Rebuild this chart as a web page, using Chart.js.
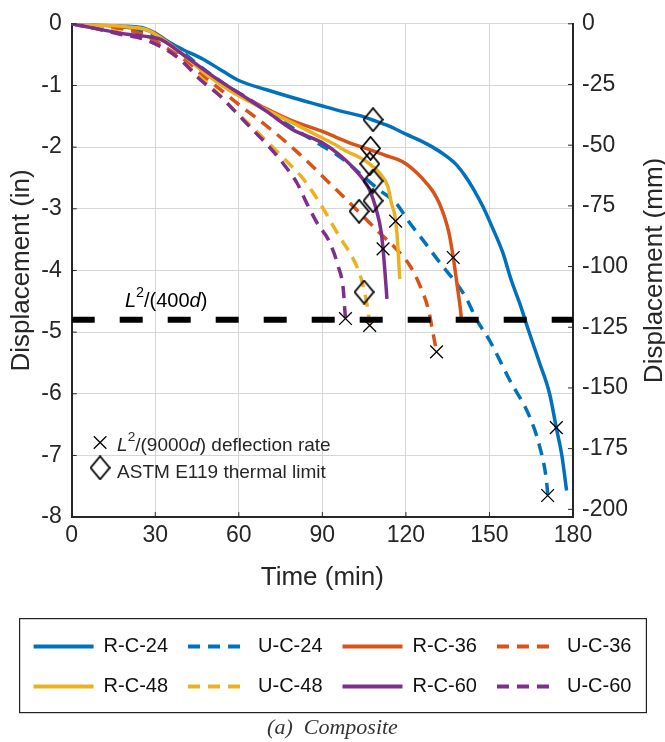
<!DOCTYPE html>
<html>
<head>
<meta charset="utf-8">
<script src="https://cdn.jsdelivr.net/npm/chart.js@4.4.1/dist/chart.umd.min.js"></script>
<style>
  html, body { margin: 0; padding: 0; background: #fff; }
  #chart { display: block; }
</style>
</head>
<body>
<canvas id="chart" width="665" height="742"></canvas>
<script>
// ===================== Data (time in min, displacement in in) =====================
const rc24T = [0, 10, 20, 26, 30, 35, 40, 47, 54, 60, 70, 79.5, 89, 97, 103.5, 108, 114, 120, 125, 129.6, 134, 138, 141, 144, 147.6, 151, 154.7, 158, 161, 164, 168, 171.6, 174, 176, 177.7];
const rc24D = [0, -0.02, -0.04, -0.07, -0.15, -0.3, -0.42, -0.57, -0.76, -0.92, -1.07, -1.2, -1.32, -1.42, -1.49, -1.56, -1.66, -1.79, -1.89, -2.0, -2.13, -2.28, -2.45, -2.66, -2.96, -3.3, -3.7, -4.18, -4.55, -4.97, -5.5, -6.0, -6.55, -7.0, -7.57];

const uc24T = [0, 10, 20, 28, 33, 40, 47, 54, 61.5, 70, 76, 83, 90, 97, 103.5, 110.6, 116.5, 121.4, 126, 133, 138, 141.8, 145.3, 150.1, 157.3, 164.4, 168, 170.4, 171];
const uc24D = [0, -0.03, -0.08, -0.15, -0.27, -0.47, -0.72, -0.95, -1.16, -1.4, -1.59, -1.79, -1.98, -2.18, -2.43, -2.7, -2.91, -3.23, -3.5, -3.92, -4.2, -4.46, -4.79, -5.14, -5.78, -6.37, -6.85, -7.38, -7.66];

const rc36T = [0, 10, 20, 27, 32, 40, 47, 54, 60.4, 70, 79.5, 89, 95, 101, 107, 113, 117, 120, 124, 127.5, 130, 132, 134, 135.5, 137, 138.6, 139.5, 140];
const rc36D = [0, -0.02, -0.06, -0.1, -0.22, -0.5, -0.76, -0.98, -1.16, -1.38, -1.58, -1.73, -1.84, -1.95, -2.04, -2.14, -2.2, -2.27, -2.42, -2.59, -2.74, -2.91, -3.15, -3.4, -3.79, -4.3, -4.6, -4.82];

const uc36T = [0, 10, 20, 27, 35, 41, 47, 53, 60.3, 66.4, 73.6, 79.5, 85.5, 91.6, 97.5, 103.5, 109.4, 116.7, 121.4, 125, 128, 129.6, 131];
const uc36D = [0, -0.04, -0.1, -0.2, -0.42, -0.6, -0.84, -1.05, -1.32, -1.53, -1.79, -2.02, -2.27, -2.54, -2.8, -3.07, -3.34, -3.66, -3.92, -4.24, -4.62, -4.98, -5.32];

const rc48T = [0, 10, 20, 27, 32, 40, 47, 54, 60.4, 70, 79.5, 89, 95, 98.8, 103, 106, 110.7, 113.5, 114.8, 116, 116.8, 117.3, 117.8];
const rc48D = [0, -0.02, -0.05, -0.1, -0.23, -0.5, -0.77, -1.0, -1.18, -1.4, -1.61, -1.83, -1.97, -2.07, -2.16, -2.24, -2.43, -2.64, -2.91, -3.1, -3.4, -3.75, -4.14];

const uc48T = [0, 10, 20, 26, 34, 40, 47, 53, 59, 65, 71, 77, 82.5, 87, 91, 96, 101.5, 104, 105.8, 106.5, 107];
const uc48D = [0, -0.05, -0.18, -0.25, -0.42, -0.62, -0.9, -1.15, -1.43, -1.68, -1.95, -2.22, -2.48, -2.76, -3.05, -3.44, -3.85, -4.14, -4.5, -4.7, -4.89];

const rc60T = [0, 7.8, 20, 26, 31.7, 40, 47, 54, 63, 70, 79.5, 90, 96, 102, 107, 109.4, 111, 111.8, 112.4, 113.2];
const rc60D = [0, -0.07, -0.17, -0.2, -0.25, -0.5, -0.73, -0.95, -1.21, -1.42, -1.72, -1.93, -2.12, -2.38, -2.7, -3.02, -3.34, -3.65, -3.98, -4.46];

const uc60T = [0, 7.8, 17.4, 26, 34, 40, 46, 53, 59.3, 65, 70, 76, 81, 84.4, 88, 92.7, 95.6, 97.5, 98, 98.3];
const uc60D = [0, -0.07, -0.17, -0.25, -0.42, -0.62, -0.9, -1.16, -1.45, -1.72, -1.95, -2.27, -2.59, -2.91, -3.22, -3.55, -3.92, -4.3, -4.6, -4.78];

// L^2/(9000d) deflection rate points
const rateT = [174, 170.9, 137, 131, 116.3, 107, 111.8, 98.3];
const rateD = [-6.55, -7.65, -3.79, -5.32, -3.2, -4.89, -3.65, -4.78];

// ASTM E119 thermal limit points
const thermalT = [108.2, 107.3, 107, 108.2, 108.2, 103.2, 105];
const thermalD = [-1.555, -2.02, -2.27, -2.55, -2.87, -3.04, -4.35];

// L^2/(400d) limit
const limitD = -4.8;

// axes
const timeTicks = [0, 30, 60, 90, 120, 150, 180];
const inchMin = -8;
const mmPerInch = 25.4;
const mmStep = 25;

const seriesNames = ['R-C-24', 'U-C-24', 'R-C-36', 'U-C-36', 'R-C-48', 'U-C-48', 'R-C-60', 'U-C-60'];
const seriesT = [rc24T, uc24T, rc36T, uc36T, rc48T, uc48T, rc60T, uc60T];
const seriesD = [rc24D, uc24D, rc36D, uc36D, rc48D, uc48D, rc60D, uc60D];
const seriesColors = ['#0072BD', '#0072BD', '#D95319', '#D95319', '#EDB120', '#EDB120', '#7E2F8E', '#7E2F8E'];

// ===================== Helpers =====================
const TEXT = '#262626';
const FONT = "'Liberation Sans', Arial, Helvetica, sans-serif";

function toPoints(ts, ds) {
    return ts.map((t, i) => ({ x: t, y: ds[i] }));
}

function makeDiamond(w, h) {
    const c = document.createElement('canvas');
    c.width = w + 2;
    c.height = h + 2;
    const g = c.getContext('2d');
    g.strokeStyle = '#000';
    g.lineWidth = 1.8;
    g.beginPath();
    g.moveTo(c.width / 2, 1);
    g.lineTo(c.width - 1, c.height / 2);
    g.lineTo(c.width / 2, c.height - 1);
    g.lineTo(1, c.height / 2);
    g.closePath();
    g.stroke();
    return c;
}
const diamond = makeDiamond(19, 23);

// draws text pieces: plain, italic, superscript
function drawRich(ctx, parts, x, y, size) {
    ctx.textBaseline = 'middle';
    ctx.textAlign = 'left';
    parts.forEach(p => {
        const s = p.sup ? size * 0.72 : size;
        ctx.font = (p.italic ? 'italic ' : '') + s + 'px ' + FONT;
        const dy = p.sup ? -size * 0.42 : 0;
        ctx.fillText(p.t, x, y + dy);
        x += ctx.measureText(p.t).width;
    });
}

// ===================== Datasets =====================
const datasets = seriesNames.map((name, i) => ({
    label: name,
    data: toPoints(seriesT[i], seriesD[i]),
    borderColor: seriesColors[i],
    backgroundColor: seriesColors[i],
    borderWidth: 3.5,
    borderDash: name.startsWith('U') ? [12, 8] : [],
    pointRadius: 0,
    cubicInterpolationMode: 'monotone',
    yAxisID: 'y',
    order: 20 - i
}));

datasets.push({
    label: 'limit',
    data: [{ x: timeTicks[0], y: limitD }, { x: timeTicks[timeTicks.length - 1], y: limitD }],
    borderColor: '#000',
    borderWidth: 6,
    borderDash: [23, 25],
    pointRadius: 0,
    yAxisID: 'y',
    order: 2
});
datasets.push({
    type: 'scatter',
    label: 'thermal',
    data: toPoints(thermalT, thermalD),
    pointStyle: diamond,
    showLine: false,
    yAxisID: 'y',
    order: 1
});
datasets.push({
    type: 'scatter',
    label: 'rate',
    data: toPoints(rateT, rateD),
    pointStyle: 'crossRot',
    pointRadius: 9,
    borderColor: '#000',
    borderWidth: 1.3,
    showLine: false,
    yAxisID: 'y',
    order: 0
});

// legend items keep the line dash of their dataset
function legendLabels(chart) {
    const items = Chart.defaults.plugins.legend.labels.generateLabels(chart);
    return items
        .filter(item => item.datasetIndex < seriesNames.length)
        .sort((a, b) => a.datasetIndex - b.datasetIndex)
        .map(item => {
            const ds = chart.data.datasets[item.datasetIndex];
            item.lineDash = ds.borderDash;
            item.lineWidth = 4;
            item.strokeStyle = ds.borderColor;
            item.pointStyle = 'line';
            return item;
        });
}

// ===================== Extra drawing =====================
const extras = {
    id: 'extras',
    afterDraw(chart) {
        const ctx = chart.ctx;
        const { left, right, bottom, top } = chart.chartArea;
        const xs = chart.scales.x, ys = chart.scales.y, ys2 = chart.scales.y2;
        ctx.save();
        ctx.fillStyle = TEXT;
        ctx.strokeStyle = TEXT;

        // inward tick marks
        ctx.lineWidth = 1;
        ctx.beginPath();
        ys.ticks.forEach(t => { const p = ys.getPixelForValue(t.value); ctx.moveTo(left, p); ctx.lineTo(left + 5, p); });
        ys2.ticks.forEach(t => { const p = ys2.getPixelForValue(t.value); ctx.moveTo(right, p); ctx.lineTo(right - 5, p); });
        xs.ticks.forEach(t => { const p = xs.getPixelForValue(t.value); ctx.moveTo(p, bottom); ctx.lineTo(p, bottom - 5); });
        ctx.stroke();

        // limit label
        ctx.fillStyle = '#000';
        drawRich(ctx, [{ t: 'L', italic: true }, { t: '2', sup: true }, { t: '/(400' }, { t: 'd', italic: true }, { t: ')' }],
            xs.getPixelForValue(19.1), ys.getPixelForValue(-4.5), 20);

        // inner legend
        const mx = xs.getPixelForValue(10.2);
        const y1 = ys.getPixelForValue(-6.79);
        const y2 = ys.getPixelForValue(-7.2);
        ctx.strokeStyle = '#000';
        ctx.lineWidth = 1.3;
        ctx.beginPath();
        ctx.moveTo(mx - 6.3, y1 - 6.3); ctx.lineTo(mx + 6.3, y1 + 6.3);
        ctx.moveTo(mx + 6.3, y1 - 6.3); ctx.lineTo(mx - 6.3, y1 + 6.3);
        ctx.stroke();
        ctx.drawImage(diamond, mx - diamond.width / 2, y2 - diamond.height / 2);
        const tx = xs.getPixelForValue(16.3);
        ctx.fillStyle = TEXT;
        drawRich(ctx, [{ t: 'L', italic: true }, { t: '2', sup: true }, { t: '/(9000' }, { t: 'd', italic: true }, { t: ') deflection rate' }],
            tx, y1 + 3, 19);
        drawRich(ctx, [{ t: 'ASTM E119 thermal limit' }], tx, y2 + 5, 19);

        // right axis title
        ctx.font = '26px ' + FONT;
        ctx.textAlign = 'center';
        ctx.textBaseline = 'middle';
        ctx.translate(chart.width - 10, (top + bottom) / 2);
        ctx.rotate(-Math.PI / 2);
        ctx.fillText('Displacement (mm)', 0, 0);
        ctx.restore();

        // legend frame
        const hb = chart.legend.legendHitBoxes;
        if (hb && hb.length) {
            const l = Math.min(...hb.map(b => b.left));
            const r = Math.max(...hb.map(b => b.left + b.width));
            const t = Math.min(...hb.map(b => b.top));
            const b = Math.max(...hb.map(b => b.top + b.height));
            ctx.save();
            ctx.strokeStyle = '#222';
            ctx.lineWidth = 1.2;
            ctx.strokeRect(l - 14, t - 18, r - l + 29, b - t + 34);
            ctx.restore();
        }
    }
};

// ===================== Chart =====================
Chart.defaults.font.family = FONT;
Chart.defaults.color = TEXT;

new Chart(document.getElementById('chart'), {
    type: 'line',
    data: { datasets },
    options: {
        responsive: false,
        animation: false,
        layout: { padding: { top: 17.5, left: 0, right: 0, bottom: 0 } },
        scales: {
            x: {
                type: 'linear',
                min: timeTicks[0],
                max: timeTicks[timeTicks.length - 1],
                afterBuildTicks: s => { s.ticks = timeTicks.map(v => ({ value: v })); },
                ticks: { font: { size: 23 }, color: TEXT, padding: 5, maxRotation: 0 },
                grid: { color: '#d6d6d6', drawTicks: false },
                border: { color: TEXT, width: 2 },
                title: { display: true, text: 'Time (min)', font: { size: 26 }, color: TEXT, padding: { top: 0, bottom: 23 } },
                afterFit: s => { s.height = 99.5; }
            },
            y: {
                type: 'linear',
                position: 'left',
                min: inchMin,
                max: 0,
                ticks: { stepSize: 1, font: { size: 23 }, color: TEXT, padding: 10 },
                grid: { color: '#d6d6d6', drawTicks: false },
                border: { color: TEXT, width: 2 },
                title: { display: true, text: 'Displacement (in)', font: { size: 26 }, color: TEXT, padding: { top: 6, bottom: 0 } },
                afterFit: s => { s.width = 71.7; }
            },
            y2: {
                type: 'linear',
                position: 'right',
                min: inchMin * mmPerInch,
                max: 0,
                ticks: { stepSize: mmStep, includeBounds: false, font: { size: 23 }, color: TEXT, padding: 9 },
                grid: { drawOnChartArea: false, drawTicks: false },
                border: { color: TEXT, width: 2 },
                afterFit: s => { s.width = 92; }
            }
        },
        plugins: {
            legend: {
                position: 'bottom',
                labels: {
                    usePointStyle: true,
                    pointStyle: 'line',
                    pointStyleWidth: 60,
                    font: { size: 20 },
                    color: '#111',
                    padding: 20,
                    generateLabels: legendLabels
                }
            },
            title: {
                display: true,
                position: 'bottom',
                text: '(a)  Composite',
                font: { family: "'Liberation Serif', 'Times New Roman', serif", style: 'italic', size: 22, weight: 'normal' },
                color: '#333',
                padding: { top: 8, bottom: 1 }
            },
            tooltip: { enabled: false }
        }
    },
    plugins: [extras]
});
</script>
</body>
</html>
